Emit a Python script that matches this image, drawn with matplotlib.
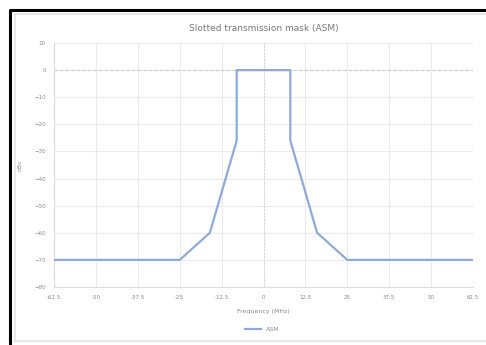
import matplotlib
matplotlib.use("Agg")
import matplotlib.pyplot as plt
from matplotlib.lines import Line2D

# ASM mask points (MHz, dBc)
freq = [-62.5, -25, -16, -8, -8, 8, 8, 16, 25, 62.5]
level = [-70, -70, -60, -26, 0, 0, -26, -60, -70, -70]

x_ticks = [-62.5, -50, -37.5, -25, -12.5, 0, 12.5, 25, 37.5, 50, 62.5]
x_labels = ['-62.5', '-50', '-37.5', '-25', '-12.5', '0', '12.5', '25', '37.5', '50', '62.5']
y_ticks = list(range(10, -90, -10))

W, H = 486, 345
fig = plt.figure(figsize=(W / 100, H / 100), dpi=100)
fig.patch.set_facecolor('white')

# black frame (left and top only, cropped screenshot) and light chart border
fig.lines.append(Line2D([9.5 / W, 9.5 / W, 1.0], [0.0, 1 - 9.5 / H, 1 - 9.5 / H],
                        transform=fig.transFigure, color='black', linewidth=2.2))
fig.lines.append(Line2D([15 / W, 15 / W, 1.0], [1 - 341 / H, 1 - 13.5 / H, 1 - 13.5 / H],
                        transform=fig.transFigure, color='#e4e4e4', linewidth=1.2))
fig.lines.append(Line2D([15 / W, 1.0], [1 - 341 / H, 1 - 341 / H],
                        transform=fig.transFigure, color='#e4e4e4', linewidth=1.2))

ax = fig.add_axes([54 / W, 1 - 287 / H, (473 - 54) / W, (287 - 43) / H])
ax.plot(freq, level, color='#8eaadb', linewidth=1.6, label='ASM', zorder=3)

ax.set_xlim(-62.5, 62.5)
ax.set_ylim(-80, 10)
ax.set_xticks(x_ticks)
ax.set_xticklabels(x_labels)
ax.set_yticks(y_ticks)

ax.grid(True, color='#ebebeb', linewidth=0.8)
ax.axhline(0, color='#cccccc', linewidth=0.8, linestyle=(0, (3, 2)), zorder=2)
ax.axvline(0, color='#cccccc', linewidth=0.8, linestyle=(0, (1, 2)), zorder=2)

for side in ['top', 'right']:
    ax.spines[side].set_visible(False)
ax.spines['left'].set_color('#dddddd')
ax.spines['bottom'].set_color('#dddddd')
ax.tick_params(length=0, labelsize=4, colors='#8a8a8a', pad=6)

ax.set_title('Slotted transmission mask (ASM)', fontsize=6.5, color='#7a7a7a', pad=9)
ax.set_xlabel('Frequency (MHz)', fontsize=4.5, color='#8a8a8a', labelpad=6)
ax.set_ylabel('dBc', fontsize=4.5, color='#8a8a8a', labelpad=8)

fig.legend(loc='center', bbox_to_anchor=(262 / W, 1 - 329 / H), frameon=False,
           fontsize=4.5, labelcolor='#8a8a8a', handlelength=2.5)

fig.savefig('out.png', dpi=100)
